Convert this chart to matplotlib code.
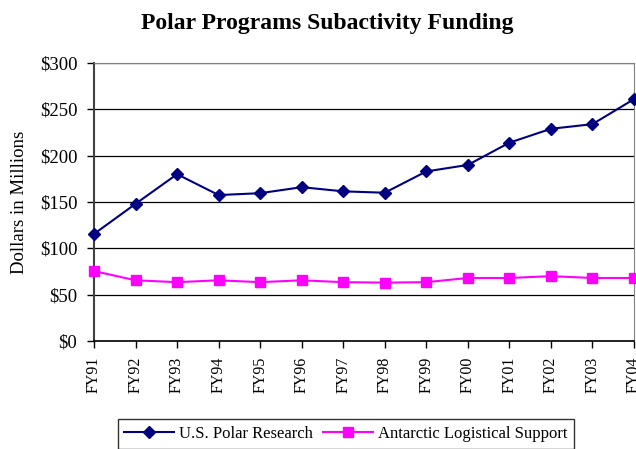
import numpy as np
import matplotlib.pyplot as plt

plt.rcParams['font.family'] = ['Liberation Serif', 'DejaVu Serif']

years = ['FY91', 'FY92', 'FY93', 'FY94', 'FY95', 'FY96', 'FY97',
         'FY98', 'FY99', 'FY00', 'FY01', 'FY02', 'FY03', 'FY04']
polar_research = [115.5, 148, 180, 157.5, 159.5, 166, 161.5,
                  160, 183, 190, 214, 229, 234, 261]
logistical_support = [75.5, 65.5, 63.5, 65.5, 63.5, 65.5, 63.5,
                      63, 63.5, 68, 68, 70, 68, 68]
yticks = [0, 50, 100, 150, 200, 250, 300]

fig = plt.figure(figsize=(6.36, 4.49), dpi=100)
ax = fig.add_axes([94 / 636, 1 - 341 / 449, 540 / 636, 278 / 449])

x = np.arange(len(years))
ax.plot(x, polar_research, color='#000080', marker='D', markersize=6,
        linewidth=1.5, label='U.S. Polar Research', clip_on=False, zorder=4)
ax.plot(x, logistical_support, color='#FF00FF', marker='s', markersize=6.5,
        linewidth=1.5, label='Antarctic Logistical Support', clip_on=False, zorder=3)

ax.set_xlim(0, len(years) - 1)
ax.set_ylim(0, 300)
ax.set_yticks(yticks)
ax.set_yticklabels(['$%d' % v for v in yticks], fontsize=13.5)
ax.set_xticks(x)
ax.set_xticklabels(years, rotation=90, fontsize=11.5)
ax.tick_params(axis='both', direction='out', length=5, width=1, color='black')
ax.tick_params(axis='x', pad=6)
ax.tick_params(axis='y', pad=7)
ax.yaxis.grid(True, color='black', linewidth=0.9)
ax.set_axisbelow(True)

ax.spines['left'].set_color('#404040')
ax.spines['left'].set_linewidth(1.5)
ax.spines['bottom'].set_color('black')
ax.spines['bottom'].set_linewidth(1.2)
ax.spines['top'].set_color('#808080')
ax.spines['right'].set_color('#808080')

ax.set_ylabel('Dollars in Millions', fontsize=13.5)
ax.yaxis.set_label_coords(-0.122, 0.5)
fig.suptitle('Polar Programs Subactivity Funding', fontsize=17,
             fontweight='bold', x=327 / 636, y=0.97)

leg = fig.legend(loc='lower center', bbox_to_anchor=(346 / 636, -0.018), ncol=2,
                 fontsize=12, frameon=True, fancybox=False, edgecolor='black',
                 handlelength=3, columnspacing=0.6, handletextpad=0.3,
                 borderpad=0.4)
leg.get_frame().set_linewidth(1)

plt.savefig('out.png', dpi=100)
